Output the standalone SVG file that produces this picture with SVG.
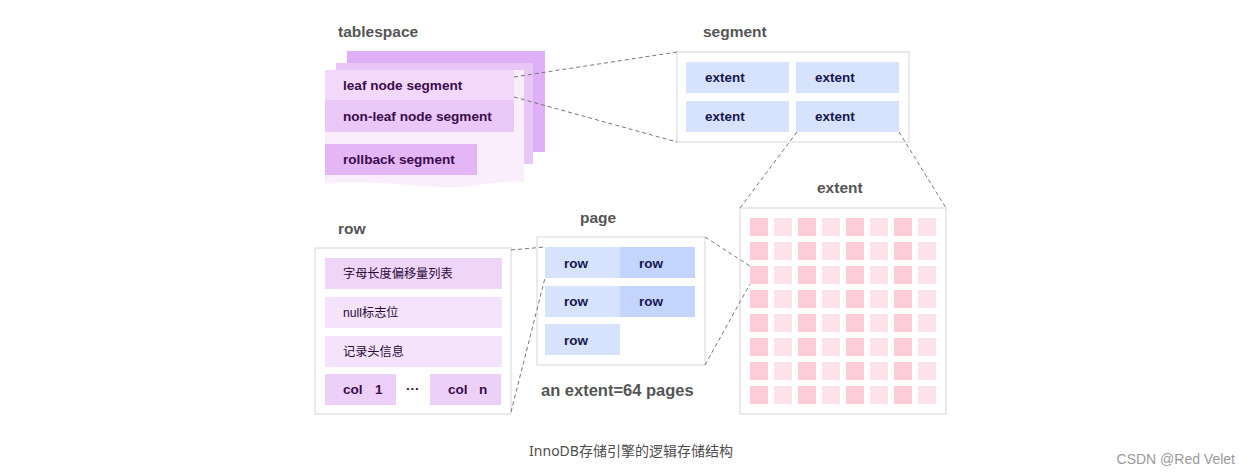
<svg xmlns="http://www.w3.org/2000/svg" width="1250" height="475" viewBox="0 0 1250 475">
<style>
.title{font-family:"Liberation Sans",Arial,sans-serif;font-weight:bold;font-size:15.5px;fill:#555}
.tl{font-family:"Liberation Sans",Arial,sans-serif;font-weight:bold;font-size:13.6px;fill:#3a0b4c}
.nv{font-family:"Liberation Sans",Arial,sans-serif;font-weight:bold;font-size:13.5px;fill:#17174f}
.cj{font-family:"Liberation Sans","Noto Sans CJK SC",sans-serif;font-size:12.2px;fill:#2a0a3a}
.box{fill:#fff;stroke:#dcdcdc;stroke-width:1.2}
.conn{fill:none;stroke:#777;stroke-width:1;stroke-dasharray:4 3}
.ext{fill:#d7e3fc}
.ext2{fill:#c3d5fc}
.pk1{fill:#fccdd9}
.pk2{fill:#fde2ea}
</style>
<rect width="1250" height="475" fill="#fff"/>

<g id="tablespace">
<text class="title" x="338" y="37">tablespace</text>
<rect x="347" y="51" width="198" height="101" fill="#dfb0f7"/>
<rect x="336" y="63" width="197" height="101" fill="#e8c6f8"/>
<path d="M325,70 H524 V182 C500,180 480,186 455,187 C420,188 380,180 325,183 Z" fill="#faeefc"/>
<rect x="325" y="70" width="189" height="30" fill="#f2d9fb"/>
<text class="tl" x="343" y="90">leaf node segment</text>
<rect x="325" y="100" width="189" height="32" fill="#e9c7f6"/>
<text class="tl" x="343" y="121">non-leaf node segment</text>
<rect x="325" y="144" width="152" height="31" fill="#e4b6f5"/>
<text class="tl" x="343" y="164">rollback segment</text>
</g>

<g id="segment">
<text class="title" x="703" y="37">segment</text>
<rect class="box" x="677" y="52" width="232" height="90"/>
<rect class="ext" x="686" y="62" width="103" height="31"/>
<rect class="ext" x="796" y="62" width="103" height="31"/>
<rect class="ext" x="686" y="101" width="103" height="31"/>
<rect class="ext" x="796" y="101" width="103" height="31"/>
<text class="nv" x="705" y="82">extent</text>
<text class="nv" x="815" y="82">extent</text>
<text class="nv" x="705" y="121">extent</text>
<text class="nv" x="815" y="121">extent</text>
</g>

<g id="extent">
<text class="title" x="817" y="193">extent</text>
<rect class="box" x="740" y="208" width="206" height="206"/>
<g>
<rect class="pk1" x="750" y="218" width="18" height="18"/><rect class="pk2" x="774" y="218" width="18" height="18"/><rect class="pk1" x="798" y="218" width="18" height="18"/><rect class="pk2" x="822" y="218" width="18" height="18"/><rect class="pk1" x="846" y="218" width="18" height="18"/><rect class="pk2" x="870" y="218" width="18" height="18"/><rect class="pk1" x="894" y="218" width="18" height="18"/><rect class="pk2" x="918" y="218" width="18" height="18"/>
<rect class="pk1" x="750" y="242" width="18" height="18"/><rect class="pk2" x="774" y="242" width="18" height="18"/><rect class="pk1" x="798" y="242" width="18" height="18"/><rect class="pk2" x="822" y="242" width="18" height="18"/><rect class="pk1" x="846" y="242" width="18" height="18"/><rect class="pk2" x="870" y="242" width="18" height="18"/><rect class="pk1" x="894" y="242" width="18" height="18"/><rect class="pk2" x="918" y="242" width="18" height="18"/>
<rect class="pk1" x="750" y="266" width="18" height="18"/><rect class="pk2" x="774" y="266" width="18" height="18"/><rect class="pk1" x="798" y="266" width="18" height="18"/><rect class="pk2" x="822" y="266" width="18" height="18"/><rect class="pk1" x="846" y="266" width="18" height="18"/><rect class="pk2" x="870" y="266" width="18" height="18"/><rect class="pk1" x="894" y="266" width="18" height="18"/><rect class="pk2" x="918" y="266" width="18" height="18"/>
<rect class="pk1" x="750" y="290" width="18" height="18"/><rect class="pk2" x="774" y="290" width="18" height="18"/><rect class="pk1" x="798" y="290" width="18" height="18"/><rect class="pk2" x="822" y="290" width="18" height="18"/><rect class="pk1" x="846" y="290" width="18" height="18"/><rect class="pk2" x="870" y="290" width="18" height="18"/><rect class="pk1" x="894" y="290" width="18" height="18"/><rect class="pk2" x="918" y="290" width="18" height="18"/>
<rect class="pk1" x="750" y="314" width="18" height="18"/><rect class="pk2" x="774" y="314" width="18" height="18"/><rect class="pk1" x="798" y="314" width="18" height="18"/><rect class="pk2" x="822" y="314" width="18" height="18"/><rect class="pk1" x="846" y="314" width="18" height="18"/><rect class="pk2" x="870" y="314" width="18" height="18"/><rect class="pk1" x="894" y="314" width="18" height="18"/><rect class="pk2" x="918" y="314" width="18" height="18"/>
<rect class="pk1" x="750" y="338" width="18" height="18"/><rect class="pk2" x="774" y="338" width="18" height="18"/><rect class="pk1" x="798" y="338" width="18" height="18"/><rect class="pk2" x="822" y="338" width="18" height="18"/><rect class="pk1" x="846" y="338" width="18" height="18"/><rect class="pk2" x="870" y="338" width="18" height="18"/><rect class="pk1" x="894" y="338" width="18" height="18"/><rect class="pk2" x="918" y="338" width="18" height="18"/>
<rect class="pk1" x="750" y="362" width="18" height="18"/><rect class="pk2" x="774" y="362" width="18" height="18"/><rect class="pk1" x="798" y="362" width="18" height="18"/><rect class="pk2" x="822" y="362" width="18" height="18"/><rect class="pk1" x="846" y="362" width="18" height="18"/><rect class="pk2" x="870" y="362" width="18" height="18"/><rect class="pk1" x="894" y="362" width="18" height="18"/><rect class="pk2" x="918" y="362" width="18" height="18"/>
<rect class="pk1" x="750" y="386" width="18" height="18"/><rect class="pk2" x="774" y="386" width="18" height="18"/><rect class="pk1" x="798" y="386" width="18" height="18"/><rect class="pk2" x="822" y="386" width="18" height="18"/><rect class="pk1" x="846" y="386" width="18" height="18"/><rect class="pk2" x="870" y="386" width="18" height="18"/><rect class="pk1" x="894" y="386" width="18" height="18"/><rect class="pk2" x="918" y="386" width="18" height="18"/>
</g>
</g>

<g id="page">
<text class="title" x="580" y="223">page</text>
<rect class="box" x="537" y="237" width="168" height="128"/>
<rect class="ext" x="545" y="247" width="75" height="31"/>
<rect class="ext2" x="620" y="247" width="75" height="31"/>
<rect class="ext" x="545" y="286" width="75" height="31"/>
<rect class="ext2" x="620" y="286" width="75" height="31"/>
<rect class="ext" x="545" y="324" width="75" height="31"/>
<text class="nv" x="564" y="268">row</text>
<text class="nv" x="639" y="268">row</text>
<text class="nv" x="564" y="306">row</text>
<text class="nv" x="639" y="306">row</text>
<text class="nv" x="564" y="345">row</text>
<text class="title" x="541" y="396" style="font-size:16.5px">an extent=64 pages</text>
</g>

<g id="row">
<text class="title" x="338" y="234">row</text>
<rect class="box" x="315" y="248" width="196" height="166"/>
<rect x="325" y="258" width="177" height="31" fill="#efd6f8"/>
<rect x="325" y="297" width="177" height="31" fill="#f4e3fb"/>
<rect x="325" y="336" width="177" height="31" fill="#f4e3fb"/>
<rect x="325" y="374" width="71" height="31" fill="#ecd0f7"/>
<rect x="430" y="374" width="71" height="31" fill="#ecd0f7"/>
<text class="cj" x="343" y="278">字母长度偏移量列表</text>
<text class="cj" x="343" y="317">null标志位</text>
<text class="cj" x="343" y="356">记录头信息</text>
<text class="tl" x="343" y="394">col</text>
<text class="tl" x="375" y="394">1</text>
<text class="tl" x="406" y="393">···</text>
<text class="tl" x="448" y="394">col</text>
<text class="tl" x="479" y="394">n</text>
</g>

<g id="connectors">
<line class="conn" x1="514" y1="77" x2="677" y2="52"/>
<line class="conn" x1="514" y1="97" x2="677" y2="142"/>
<line class="conn" x1="797" y1="132" x2="740" y2="208"/>
<line class="conn" x1="899" y1="132" x2="946" y2="208"/>
<line class="conn" x1="705" y1="237" x2="750" y2="266"/>
<line class="conn" x1="705" y1="365" x2="750" y2="284"/>
<line class="conn" x1="511" y1="250" x2="545" y2="247"/>
<line class="conn" x1="511" y1="412" x2="545" y2="278"/>
</g>

<text x="631" y="456" text-anchor="middle" style="font-family:'Noto Sans','Noto Sans CJK SC',sans-serif;font-size:14px;fill:#4d4d4d">InnoDB存储引擎的逻辑存储结构</text>
<text x="1235" y="464" text-anchor="end" style="font-family:'Liberation Sans',Arial,sans-serif;font-size:14px;fill:#9a9a9a">CSDN @Red Velet</text>
</svg>
